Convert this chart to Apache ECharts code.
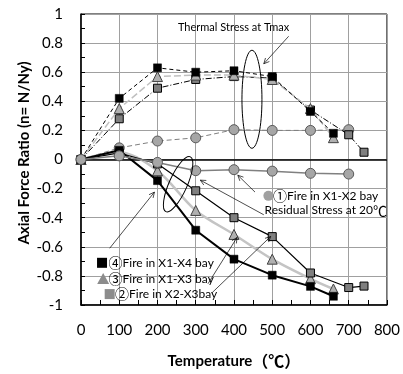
<!DOCTYPE html>
<html><head><meta charset="utf-8">
<script src="https://cdn.jsdelivr.net/npm/echarts@6/dist/echarts.min.js"></script>
<style>html,body{margin:0;padding:0;background:#fff}#c{width:403px;height:374px}</style>
</head><body><div id="c"></div>
<script>
// ---- data ----
const thermalX4_T = [0,100,200,300,400,500,600,660];
const thermalX4_N = [0,0.42,0.63,0.60,0.61,0.57,0.33,0.18];
const thermalX3_T = [0,100,200,300,400,500,600,660];
const thermalX3_N = [0,0.35,0.57,0.58,0.58,0.55,0.35,0.15];
const thermalX23_T = [0,100,200,300,400,500,600,700,740];
const thermalX23_N = [0,0.28,0.49,0.55,0.57,0.56,0.34,0.17,0.05];
const thermalX2_T = [0,100,200,300,400,500,600,700];
const thermalX2_N = [0,0.08,0.127,0.149,0.205,0.20,0.20,0.205];

const residX4_T = [0,100,200,300,400,500,600,660];
const residX4_N = [0,0.063,-0.145,-0.486,-0.685,-0.795,-0.872,-0.94];
const residX3_T = [0,100,200,300,400,500,600,660];
const residX3_N = [0,0.05,-0.077,-0.35,-0.515,-0.685,-0.82,-0.89];
const residX23_T = [0,100,200,300,400,500,600,700,740];
const residX23_N = [0,0.045,-0.03,-0.215,-0.40,-0.53,-0.78,-0.88,-0.87];
const residX2_T = [0,100,200,300,400,500,600,700];
const residX2_N = [0,0.025,-0.02,-0.077,-0.07,-0.08,-0.095,-0.10];

const xMin = 0, xMax = 800, xStep = 100;
const yMin = -1, yMax = 1, yStep = 0.2;

const FONT = 'Lato, "Noto Sans CJK JP", sans-serif';
const CJK = '"Noto Sans CJK JP", "DejaVu Sans", sans-serif';
const pts = (xs, ys) => xs.map((x, i) => [x, ys[i]]);

const BLACK_SQ = {symbol:'rect', symbolSize:8, itemStyle:{color:'#000', borderColor:'#000', borderWidth:0.5}};
const GRAY_SQ = {symbol:'rect', symbolSize:8, itemStyle:{color:'#7f7f7f', borderColor:'#000', borderWidth:1}};
const TRI = {symbol:'triangle', symbolSize:10, itemStyle:{color:'#b0b0b0', borderColor:'#404040', borderWidth:1}};
const CIRC = {symbol:'circle', symbolSize:10, itemStyle:{color:'#a6a6a6', borderColor:'#595959', borderWidth:1}};

function ser(name, data, mk, line, z, smooth) {
  return Object.assign({
    name, type:'line', data, z, smooth: smooth || false,
    showAllSymbol: true, animation:false,
    lineStyle: line, emphasis:{disabled:true}
  }, mk);
}

const series = [
  ser('t1', pts(thermalX2_T, thermalX2_N), CIRC, {color:'#7f7f7f', width:1, type:[5,3]}, 2),
  ser('t2', pts(thermalX23_T, thermalX23_N), GRAY_SQ, {color:'#000', width:1, type:[6,2,1,2]}, 3),
  ser('t3', pts(thermalX3_T, thermalX3_N), TRI, {color:'#c0c0c0', width:1.5, type:[7,3]}, 4),
  ser('t4', pts(thermalX4_T, thermalX4_N), BLACK_SQ, {color:'#000', width:1, type:[4,3]}, 5),
  ser('r3', pts(residX3_T, residX3_N), TRI, {color:'#c4c4c4', width:2.5}, 6, 0.3),
  ser('r2', pts(residX23_T, residX23_N), GRAY_SQ, {color:'#000', width:1.2}, 7),
  ser('r4', pts(residX4_T, residX4_N), BLACK_SQ, {color:'#000', width:2}, 8),
  ser('r1', pts(residX2_T, residX2_N), CIRC, {color:'#808080', width:1.5}, 9),
];
series[0].markLine = {
  silent:true, symbol:'none', label:{show:false}, animation:false,
  lineStyle:{color:'#000', width:1.5, type:'solid'},
  data:[{yAxis:0}]
};

const chart = echarts.init(document.getElementById('c'), null, {renderer:'canvas'});
chart.setOption({
  animation:false,
  backgroundColor:'#fff',
  grid:{left:81, right:14, top:14, bottom:65, show:true, borderColor:'#000', borderWidth:1, backgroundColor:'transparent'},
  xAxis:{
    type:'value', min:xMin, max:xMax, interval:xStep,
    name:'Temperature{c|（℃）}', nameLocation:'middle', nameGap:48,
    nameTextStyle:{fontFamily:FONT, fontWeight:'bold', fontSize:15, color:'#000',
      rich:{c:{fontFamily:CJK, fontWeight:'bold', fontSize:16, color:'#000'}}},
    axisLine:{show:true, onZero:false, lineStyle:{color:'#000', width:1.5}},
    axisTick:{show:true, inside:true, length:5, lineStyle:{color:'#000'}},
    minorTick:{show:true, splitNumber:2, length:5, lineStyle:{color:'#000'}},
    axisLabel:{margin:18, fontFamily:FONT, fontSize:15, color:'#000'},
    splitLine:{show:true, lineStyle:{color:'#a0a0a0', width:1}}
  },
  yAxis:{
    type:'value', min:yMin, max:yMax, interval:yStep,
    axisLine:{show:true, onZero:false, lineStyle:{color:'#000', width:1.5}},
    axisTick:{show:true, inside:true, length:4, lineStyle:{color:'#000'}},
    minorTick:{show:true, splitNumber:2, length:4, lineStyle:{color:'#000'}},
    axisLabel:{margin:18, fontFamily:FONT, fontSize:15, color:'#000'},
    splitLine:{show:true, lineStyle:{color:'#a0a0a0', width:1}}
  },
  series
});

// ---- annotations (data coordinates) ----
const P = (x, y) => chart.convertToPixel({gridIndex:0}, [x, y]);
const g = [];
function arrow(a, b) {
  const p0 = P(a[0], a[1]), p1 = P(b[0], b[1]);
  const ang = Math.atan2(p1[1]-p0[1], p1[0]-p0[0]);
  const L = 6, s = 0.45;
  const h1 = [p1[0]-L*Math.cos(ang-s), p1[1]-L*Math.sin(ang-s)];
  const h2 = [p1[0]-L*Math.cos(ang+s), p1[1]-L*Math.sin(ang+s)];
  g.push({type:'line', z:100, shape:{x1:p0[0], y1:p0[1], x2:p1[0], y2:p1[1]}, style:{stroke:'#000', lineWidth:0.7}});
  g.push({type:'polyline', z:100, shape:{points:[h1, p1, h2]}, style:{stroke:'#000', lineWidth:0.7, fill:null}});
}
function text(x, y, str, size, align) {
  const p = P(x, y);
  g.push({type:'text', z:101, x:p[0], y:p[1], style:{text:str, font:size+'px '+FONT, fill:'#000', align:align||'left', verticalAlign:'middle',
    rich:{d:{fontFamily:CJK, fontSize:size+2, fill:'#000', color:'#000'}, t:{fontFamily:FONT, fontSize:size, color:'#000'}}}});
}
function ellipse(x, y, rx, ry, rot) {
  const p = P(x, y);
  g.push({type:'ellipse', z:100, x:p[0], y:p[1], rotation:rot, shape:{cx:0, cy:0, rx, ry}, style:{stroke:'#000', lineWidth:1, fill:null}});
}
function marker(kind, x, y) {
  const p = P(x, y);
  if (kind === 'bsq') g.push({type:'rect', z:101, shape:{x:p[0]-5, y:p[1]-5, width:10, height:10}, style:{fill:'#000'}});
  if (kind === 'gsq') g.push({type:'rect', z:101, shape:{x:p[0]-5, y:p[1]-5, width:10, height:10}, style:{fill:'#8c8c8c'}});
  if (kind === 'tri') g.push({type:'polygon', z:101, shape:{points:[[p[0], p[1]-6],[p[0]+6, p[1]+5],[p[0]-6, p[1]+5]]}, style:{fill:'#8c8c8c'}});
  if (kind === 'circ') g.push({type:'circle', z:101, shape:{cx:p[0], cy:p[1], r:5}, style:{fill:'#a0a0a0'}});
}

ellipse(447, 0.414, 10, 49, 0);
ellipse(254, -0.17, 9, 30, -0.42);

arrow([543, 0.847], [478, 0.658]);
arrow([455, -0.224], [410, -0.108]);
arrow([478, -0.38], [312, -0.142]);
arrow([75, -0.61], [192, -0.224]);
arrow([332, -0.854], [408, -0.536]);
arrow([343, -0.915], [496, -0.529]);

text(399, 0.905, 'Thermal Stress at Tmax', 11, 'center');
marker('circ', 490, -0.25);
text(502, -0.25, '{d|①}{t|Fire in X1-X2 bay}', 12);
text(480, -0.35, '{t|Residual Stress at 20}{d|℃}', 12);
marker('bsq', 55, -0.71);
text(72, -0.71, '{d|④}{t|Fire in X1-X4 bay}', 12);
marker('tri', 58, -0.822);
text(72, -0.822, '{d|③}{t|Fire in X1-X3 bay}', 12);
marker('gsq', 75, -0.925);
text(89, -0.925, '{d|②}{t|Fire in X2-X3bay}', 12);

// y-axis title
g.push({type:'text', z:101, x:24, y:153, rotation:Math.PI/2,
  style:{text:'Axial Force Ratio (n= N/Ny)', font:'bold 15px '+FONT, fill:'#000', align:'center', verticalAlign:'middle'}});

chart.setOption({graphic:{elements:g}});
</script>
</body></html>
